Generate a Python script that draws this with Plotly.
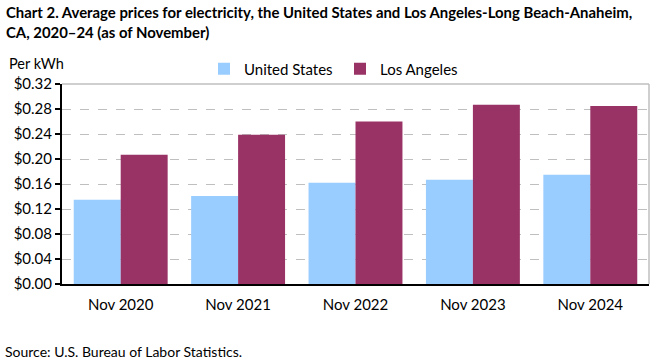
import plotly.graph_objects as go

categories = ["Nov 2020", "Nov 2021", "Nov 2022", "Nov 2023", "Nov 2024"]
us_values = [0.135, 0.141, 0.162, 0.167, 0.175]
la_values = [0.207, 0.239, 0.260, 0.287, 0.285]
y_ticks = [0.00, 0.04, 0.08, 0.12, 0.16, 0.20, 0.24, 0.28, 0.32]
y_tick_labels = ["$%.2f" % v for v in y_ticks]

FONT = "Lato, 'Open Sans', sans-serif"
PW = 587.0  # plot width px
PH = 200.0  # plot height px

def px_x(px):
    return (px - 62) / PW

def px_y(py):
    return (284 - py) / PH

fig = go.Figure()
fig.add_trace(go.Bar(x=categories, y=us_values, name="United States",
                     marker=dict(color="#99CCFF", line=dict(width=0))))
fig.add_trace(go.Bar(x=categories, y=la_values, name="Los Angeles",
                     marker=dict(color="#993366", line=dict(width=0))))

fig.update_layout(
    width=661, height=360,
    margin=dict(l=62, r=12, t=84, b=76),
    paper_bgcolor="white", plot_bgcolor="white",
    barmode="group", bargap=0.2, bargroupgap=0,
    font=dict(family=FONT, size=14, color="#000000"),
    legend=dict(orientation="h", x=px_x(204), xanchor="left", y=px_y(69), yanchor="middle",
                font=dict(family=FONT, size=15), itemwidth=30, traceorder="normal",
                entrywidth=91, entrywidthmode="pixels",
                bgcolor="rgba(0,0,0,0)"),
    showlegend=True,
    xaxis=dict(showline=True, linecolor="#000000", linewidth=2, ticks="",
               tickfont=dict(size=15), showgrid=False, ticklabelstandoff=6),
    yaxis=dict(range=[0, 0.32], tickvals=y_ticks, ticktext=y_tick_labels,
               showline=True, linecolor="#000000", linewidth=2,
               ticks="outside", ticklen=5, tickcolor="#000000", tickwidth=1.5,
               showgrid=True, gridcolor="#BFBFBF", griddash="dash", gridwidth=1,
               zeroline=False, tickfont=dict(size=15)),
    annotations=[
        dict(text="<b>Chart 2. Average prices for electricity, the United States and Los Angeles-Long Beach-Anaheim,</b>",
             xref="paper", yref="paper", x=px_x(4), y=px_y(12), xanchor="left", yanchor="middle",
             showarrow=False, font=dict(family=FONT, size=14.9)),
        dict(text="<b>CA, 2020–24 (as of November)</b>",
             xref="paper", yref="paper", x=px_x(4), y=px_y(32), xanchor="left", yanchor="middle",
             showarrow=False, font=dict(family=FONT, size=14.9)),
        dict(text="Per kWh", xref="paper", yref="paper", x=px_x(7), y=px_y(63),
             xanchor="left", yanchor="middle", showarrow=False,
             font=dict(family=FONT, size=14.5)),
        dict(text="Source: U.S. Bureau of Labor Statistics.", xref="paper", yref="paper",
             x=px_x(3), y=px_y(351), xanchor="left", yanchor="middle", showarrow=False,
             font=dict(family=FONT, size=14)),
    ],
    shapes=[
        dict(type="line", xref="paper", yref="paper", x0=0, x1=1, y0=1, y1=1,
             line=dict(color="#BFBFBF", width=1.5)),
        dict(type="line", xref="paper", yref="paper", x0=1, x1=1, y0=0, y1=1,
             line=dict(color="#BFBFBF", width=1.5)),
    ],
)

fig.write_html("out.html", config={"displayModeBar": False},
               post_script="document.body.style.margin='0';document.body.style.padding='0';")
